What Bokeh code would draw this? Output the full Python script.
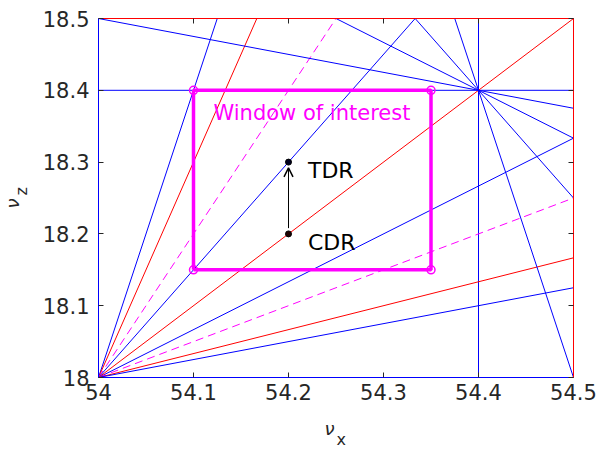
from bokeh.plotting import figure
from bokeh.models import Range1d, LinearAxis, Label, Arrow, OpenHead, FixedTicker, Title
from bokeh.embed import file_html
from bokeh.resources import INLINE

# ---- data ----
x_ticks = [54.0, 54.1, 54.2, 54.3, 54.4, 54.5]
y_ticks = [18.0, 18.1, 18.2, 18.3, 18.4, 18.5]
x_tick_labels = ["54", "54.1", "54.2", "54.3", "54.4", "54.5"]
y_tick_labels = ["18", "18.1", "18.2", "18.3", "18.4", "18.5"]

# resonance lines through the integer working point (54, 18)
origin_pt = (54.0, 18.0)
origin_slopes = [4.0, 3.0, 2.0, 1.5, 1.0, 2 / 3, 0.5, 1 / 3, 0.25]
origin_kinds = ["blue", "red", "dash", "blue", "red", "blue", "dash", "red", "blue"]

# resonance lines through the fifth-order point (54.4, 18.4)
pivot_pt = (54.4, 18.4)
pivot_slopes = [-0.25, -2 / 3, -1.5, -4.0]

# straight resonance lines
h_lines = [18.4]
v_lines = [54.4]

# window of interest
win_x = [54.1, 54.35]
win_y = [18.15, 18.4]

# working points
cdr = (54.2, 18.2)
tdr = (54.2, 18.3)

X0, X1 = 54.0, 54.5
Y0, Y1 = 18.0, 18.5

BLUE = "#0000FF"
RED = "#FF0000"
MAG = "#FF00FF"
TXT = "#262626"
FONT = "DejaVu Sans"
FS = "21px"


def clip_line(x0, y0, m):
    pts = []
    for xx in (X0, X1):
        yy = y0 + m * (xx - x0)
        if Y0 - 1e-9 <= yy <= Y1 + 1e-9:
            pts.append((xx, yy))
    for yy in (Y0, Y1):
        xx = x0 + (yy - y0) / m
        if X0 - 1e-9 <= xx <= X1 + 1e-9:
            pts.append((xx, yy))
    pts = sorted(set((round(a, 9), round(b, 9)) for a, b in pts))
    return [pts[0][0], pts[-1][0]], [pts[0][1], pts[-1][1]]


p = figure(width=597, height=450, output_backend="svg", toolbar_location=None,
           x_range=Range1d(X0, X1), y_range=Range1d(Y0, Y1),
           min_border_left=97, min_border_right=24, min_border_top=18, min_border_bottom=73)
p.xgrid.visible = False
p.ygrid.visible = False
p.outline_line_color = None
p.background_fill_color = "white"

for ax, col in ((p.xaxis[0], BLUE), (p.yaxis[0], BLUE)):
    ax.axis_line_color = col
    ax.major_tick_in = 5
    ax.major_tick_out = 0
    ax.minor_tick_line_color = None
    ax.major_tick_line_color = TXT
    ax.major_label_text_font = FONT
    ax.major_label_text_font_size = FS
    ax.major_label_text_color = TXT
p.xaxis.ticker = FixedTicker(ticks=x_ticks)
p.yaxis.ticker = FixedTicker(ticks=y_ticks)
p.xaxis.major_label_overrides = dict(zip(x_ticks, x_tick_labels))
p.yaxis.major_label_overrides = dict(zip(y_ticks, y_tick_labels))
p.xaxis.major_label_standoff = 6
p.yaxis.major_label_standoff = 9

top = LinearAxis(ticker=FixedTicker(ticks=x_ticks))
right = LinearAxis(ticker=FixedTicker(ticks=y_ticks))
for ax in (top, right):
    ax.axis_line_color = RED
    ax.major_tick_in = 5
    ax.major_tick_out = 0
    ax.minor_tick_line_color = None
    ax.major_tick_line_color = TXT
    ax.major_label_text_color = None
    ax.major_label_text_font_size = "1px"
    ax.major_label_standoff = 0
p.add_layout(top, "above")
p.add_layout(right, "right")

# straight lines
for yy in h_lines:
    p.line([X0, X1], [yy, yy], line_color=BLUE, line_width=1)
for xx in v_lines:
    p.line([xx, xx], [Y0, Y1], line_color=BLUE, line_width=1)

# fan from origin
for m, k in zip(origin_slopes, origin_kinds):
    xs, ys = clip_line(origin_pt[0], origin_pt[1], m)
    if k == "dash":
        p.line(xs, ys, line_color=MAG, line_width=1, line_dash="8 5")
    else:
        p.line(xs, ys, line_color=BLUE if k == "blue" else RED, line_width=1)

# fan through pivot
for m in pivot_slopes:
    xs, ys = clip_line(pivot_pt[0], pivot_pt[1], m)
    p.line(xs, ys, line_color=BLUE, line_width=1)

# window of interest
rx = [win_x[0], win_x[1], win_x[1], win_x[0], win_x[0]]
ry = [win_y[0], win_y[0], win_y[1], win_y[1], win_y[0]]
p.line(rx, ry, line_color=MAG, line_width=3.5)
p.scatter(rx[:4], ry[:4], marker="circle", size=8, fill_color=None, line_color=MAG, line_width=1.5)

p.add_layout(Label(x=win_x[0] + 0.021, y=18.368, text="Window of interest",
                   text_color=MAG, text_font=FONT, text_font_size=FS, text_baseline="alphabetic"))

# working points and arrow
p.add_layout(Arrow(end=OpenHead(size=9, line_color="black", line_width=1.5),
                   x_start=cdr[0], y_start=cdr[1] + 0.008, x_end=tdr[0], y_end=tdr[1] - 0.008,
                   line_color="black", line_width=1))
p.scatter([cdr[0]], [cdr[1]], marker="circle", size=6, fill_color="#200000", line_color="black")
p.scatter([tdr[0]], [tdr[1]], marker="circle", size=6, fill_color="#000020", line_color="black")
p.add_layout(Label(x=tdr[0] + 0.0205, y=tdr[1] - 0.012, text="TDR", text_color="black",
                   text_font=FONT, text_font_size="22px", text_baseline="alphabetic"))
p.add_layout(Label(x=cdr[0] + 0.0205, y=cdr[1] - 0.012, text="CDR", text_color="black",
                   text_font=FONT, text_font_size="22px", text_baseline="alphabetic"))

# axis labels (nu with subscripts) as side titles
p.add_layout(Title(text="ν", align="left", offset=226, standoff=-72, text_color=TXT,
                   text_font=FONT, text_font_size="18px", text_font_style="italic"), "below")
p.add_layout(Title(text="x", align="left", offset=238, standoff=-92, text_color=TXT,
                   text_font=FONT, text_font_size="16px", text_font_style="normal"), "below")
p.add_layout(Title(text="z", align="left", offset=182, standoff=18, text_color=TXT,
                   text_font=FONT, text_font_size="16px", text_font_style="normal"), "left")
p.add_layout(Title(text="ν", align="left", offset=169, standoff=-44, text_color=TXT,
                   text_font=FONT, text_font_size="18px", text_font_style="italic"), "left")

open("out.html", "w").write(file_html(p, INLINE))
